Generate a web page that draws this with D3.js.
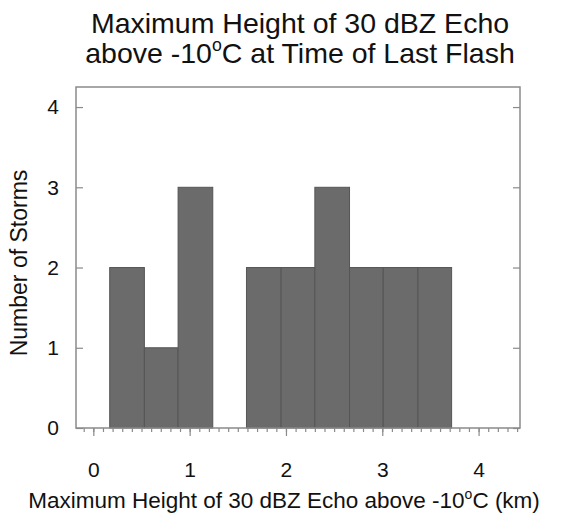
<!DOCTYPE html>
<html>
<head>
<meta charset="utf-8">
<script src="https://cdn.jsdelivr.net/npm/d3@7"></script>
<style>
  body { margin: 0; background: #fff; }
  text { font-family: "Liberation Sans", Arial, Helvetica, sans-serif; fill: #111; }
</style>
</head>
<body>
<div id="chart"></div>
<script>
// bin edges (km) and counts
const binEdges = [0.17, 0.53, 0.88, 1.24, 1.59, 1.95, 2.30, 2.66, 3.01, 3.37, 3.72];
const counts = [2, 1, 3, 0, 2, 2, 3, 2, 2, 2];
const xTicks = [0, 1, 2, 3, 4];
const yTicks = [0, 1, 2, 3, 4];

const W = 566, H = 519;
const margin = {top: 87, right: 46, bottom: 91, left: 76},
    width = W - margin.left - margin.right,
    height = H - margin.top - margin.bottom;

const svg = d3.select("#chart")
    .append("svg")
    .attr("width", W)
    .attr("height", H);

const g = svg.append("g")
    .attr("transform", `translate(${margin.left},${margin.top})`);

const x = d3.scaleLinear().domain([-0.18, 4.43]).range([0, width]);
const y = d3.scaleLinear().domain([0, 4.25]).range([height, 0]);

const bins = counts.map((c, i) => ({x0: binEdges[i], x1: binEdges[i + 1], n: c}));

g.selectAll("rect.bar")
    .data(bins.filter(d => d.n > 0))
    .enter()
    .append("rect")
    .attr("class", "bar")
    .attr("x", d => x(d.x0))
    .attr("y", d => y(d.n))
    .attr("width", d => x(d.x1) - x(d.x0))
    .attr("height", d => y(0) - y(d.n))
    .attr("fill", "#6b6b6b")
    .attr("stroke", "#555")
    .attr("stroke-width", 1);

const axisColor = "#8a8a8a";

// bottom axis: major + minor ticks pointing down
const minor = d3.range(-1, 45).map(d => d / 10);
g.append("g")
    .attr("transform", `translate(0,${height})`)
    .call(d3.axisBottom(x).tickValues(minor).tickSize(4).tickFormat(""))
    .call(a => a.select(".domain").remove())
    .call(a => a.selectAll("line").attr("stroke", axisColor).attr("stroke-width", 1.2));

g.append("g")
    .attr("transform", `translate(0,${height})`)
    .call(d3.axisBottom(x).tickValues(xTicks).tickSize(8).tickPadding(26).tickFormat(d3.format("d")))
    .call(a => a.select(".domain").remove())
    .call(a => a.selectAll("line").attr("stroke", axisColor).attr("stroke-width", 1.2))
    .call(a => a.selectAll("text").style("font-size", "21px").attr("fill", "#111"));

// left axis, ticks inward
g.append("g")
    .call(d3.axisLeft(y).tickValues(yTicks).tickSize(-7).tickPadding(17).tickFormat(d3.format("d")))
    .call(a => a.select(".domain").remove())
    .call(a => a.selectAll("line").attr("stroke", axisColor).attr("stroke-width", 1.2))
    .call(a => a.selectAll("text").style("font-size", "21px").attr("fill", "#111"));

// right axis, ticks inward
g.append("g")
    .attr("transform", `translate(${width},0)`)
    .call(d3.axisRight(y).tickValues(yTicks).tickSize(-7).tickFormat(""))
    .call(a => a.select(".domain").remove())
    .call(a => a.selectAll("line").attr("stroke", axisColor).attr("stroke-width", 1.2));

// frame
g.append("rect")
    .attr("width", width)
    .attr("height", height)
    .attr("fill", "none")
    .attr("stroke", axisColor)
    .attr("stroke-width", 1.5);

// text with a raised small "o" for degrees
function degText(sel, before, after, size) {
    sel.append("tspan").text(before);
    sel.append("tspan").text("o")
        .attr("dy", -size * 0.42)
        .style("font-size", (size * 0.62) + "px");
    sel.append("tspan").text(after)
        .attr("dy", size * 0.42);
}

svg.append("text")
    .attr("x", 300).attr("y", 33)
    .attr("text-anchor", "middle")
    .style("font-size", "28.5px")
    .text("Maximum Height of 30 dBZ Echo");

svg.append("text")
    .attr("x", 300).attr("y", 63)
    .attr("text-anchor", "middle")
    .style("font-size", "28.5px")
    .call(degText, "above -10", "C at Time of Last Flash", 28.5);

svg.append("text")
    .attr("x", 284).attr("y", 508)
    .attr("text-anchor", "middle")
    .style("font-size", "22.5px")
    .call(degText, "Maximum Height of 30 dBZ Echo above -10", "C (km)", 22.5);

svg.append("text")
    .attr("transform", "translate(27,263) rotate(-90)")
    .attr("text-anchor", "middle")
    .style("font-size", "23px")
    .text("Number of Storms");
</script>
</body>
</html>
